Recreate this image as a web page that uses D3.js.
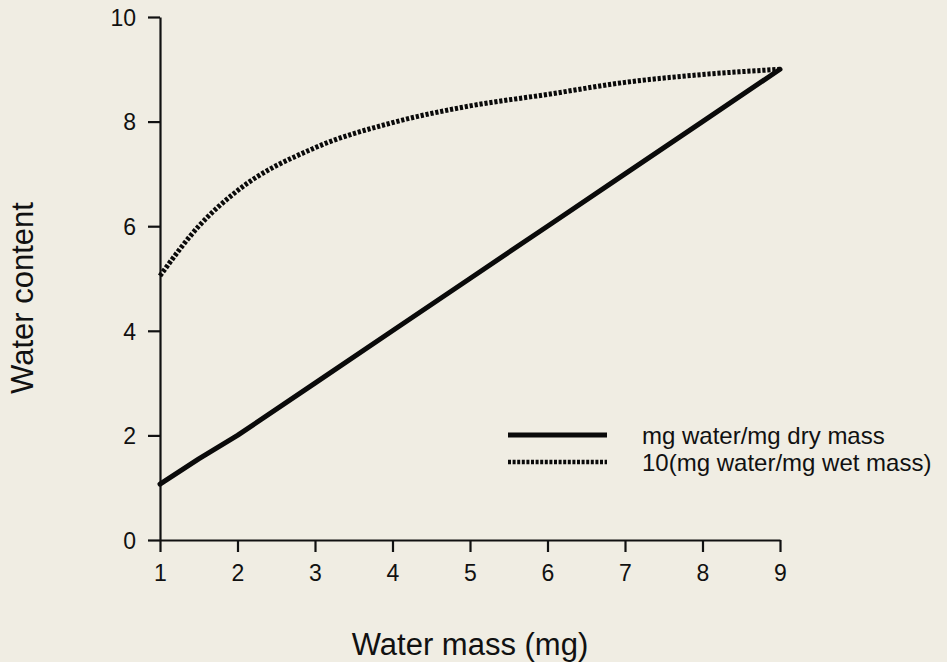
<!DOCTYPE html>
<html>
<head>
<meta charset="utf-8">
<script src="https://cdn.jsdelivr.net/npm/d3@7"></script>
<style>
  body { margin: 0; background: #f0ede3; }
  svg { display: block; font-family: "Liberation Sans", Arial, Helvetica, sans-serif; }
  .axis path, .axis line { stroke: #111; stroke-width: 2.2; }
  .axis text { fill: #111; font-size: 23px; }
</style>
</head>
<body>
<svg id="chart" width="947" height="662"></svg>
<script>
// water mass (mg) on x
var massX = [1, 1.5, 2, 3, 4, 5, 6, 7, 8, 9];
// mg water / mg dry mass
var dryRatio = [1.07, 1.55, 2.0, 3.0, 4.0, 5.0, 6.0, 7.0, 8.0, 9.0];
// 10 * (mg water / mg wet mass)
var wetRatio = [5.05, 6.0, 6.68, 7.5, 7.98, 8.3, 8.52, 8.75, 8.9, 9.0];

var xTicks = [1, 2, 3, 4, 5, 6, 7, 8, 9];
var yTicks = [0, 2, 4, 6, 8, 10];

var seriesNames = ["mg water/mg dry mass", "10(mg water/mg wet mass)"];

var margin = {top: 17, right: 167, bottom: 122, left: 160},
    width = 947 - margin.left - margin.right,
    height = 662 - margin.top - margin.bottom;

var svg = d3.select("#chart");
var g = svg.append("g")
    .attr("transform", "translate(" + margin.left + "," + margin.top + ")");

var x = d3.scaleLinear().domain([1, 9]).range([0, width]);
var y = d3.scaleLinear().domain([0, 10]).range([height, 0]);

// axes
g.append("g")
    .attr("class", "axis")
    .attr("transform", "translate(0," + height + ")")
    .call(d3.axisBottom(x).tickValues(xTicks).tickFormat(d3.format("d")).tickSize(12).tickSizeOuter(0).tickPadding(13));

var yAxis = g.append("g")
    .attr("class", "axis")
    .call(d3.axisLeft(y).tickValues(yTicks).tickFormat(d3.format("d")).tickSize(12).tickSizeOuter(0).tickPadding(12));

yAxis.selectAll(".tick text").attr("dy", "0.36em");

// lines
var dryPts = massX.map(function(d, i) { return [d, dryRatio[i]]; });
var wetPts = massX.map(function(d, i) { return [d, wetRatio[i]]; });

var straight = d3.line()
    .x(function(d) { return x(d[0]); })
    .y(function(d) { return y(d[1]); });

var smooth = d3.line()
    .curve(d3.curveMonotoneX)
    .x(function(d) { return x(d[0]); })
    .y(function(d) { return y(d[1]); });

g.append("path")
    .datum(wetPts)
    .attr("d", smooth)
    .attr("fill", "none")
    .attr("stroke", "#0a0a0a")
    .attr("stroke-width", 5)
    .attr("stroke-dasharray", "3.2,1.8");

g.append("path")
    .datum(dryPts)
    .attr("d", straight)
    .attr("fill", "none")
    .attr("stroke", "#0a0a0a")
    .attr("stroke-width", 5)
    .attr("stroke-linecap", "round")
    .attr("stroke-linejoin", "round");

// legend
var legend = svg.append("g")
    .attr("transform", "translate(508,435)");

var legendRows = legend.selectAll("g")
    .data(seriesNames)
    .enter().append("g")
    .attr("transform", function(d, i) { return "translate(0," + i * 27 + ")"; });

legendRows.append("line")
    .attr("x1", 0).attr("x2", 99)
    .attr("y1", 0).attr("y2", 0)
    .attr("stroke", "#0a0a0a")
    .attr("stroke-width", function(d, i) { return i === 0 ? 5 : 4.5; })
    .attr("stroke-dasharray", function(d, i) { return i === 0 ? null : "3,1.6"; });

legendRows.append("text")
    .attr("x", 134)
    .attr("y", 0)
    .attr("dy", "0.38em")
    .attr("fill", "#111")
    .style("font-size", "24px")
    .text(function(d) { return d; });

// axis titles
svg.append("text")
    .attr("x", margin.left + width / 2)
    .attr("y", 655)
    .attr("text-anchor", "middle")
    .attr("fill", "#111")
    .style("font-size", "31px")
    .text("Water mass (mg)");

svg.append("text")
    .attr("transform", "translate(33,298) rotate(-90)")
    .attr("text-anchor", "middle")
    .attr("fill", "#111")
    .style("font-size", "31px")
    .text("Water content");
</script>
</body>
</html>
